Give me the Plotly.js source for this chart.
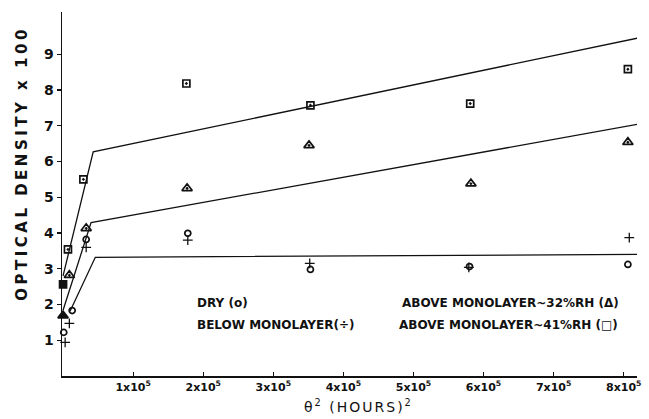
<!DOCTYPE html>
<html>
<head>
<meta charset="utf-8">
<script src="https://cdn.plot.ly/plotly-3.0.1.min.js"></script>
<style>
  html, body { margin: 0; padding: 0; background: #fff; }
  #chart { width: 649px; height: 419px; }
</style>
</head>
<body>
<div id="chart"></div>
<script>
// ---- data (x in hours^2, y = optical density x 100) ----
const rh41X = [0, 7000, 29000, 176000, 353000, 581000, 806000];
const rh41Y = [2.56, 3.54, 5.50, 8.18, 7.57, 7.62, 8.58];

const rh32X = [0, 9000, 33000, 177000, 351000, 582000, 806000];
const rh32Y = [1.69, 2.82, 4.13, 5.25, 6.45, 5.38, 6.54];

const dryX = [1000, 13000, 33000, 178000, 353000, 580000, 806000];
const dryY = [1.22, 1.83, 3.82, 3.99, 2.98, 3.06, 3.12];

const belowX = [3000, 9000, 33000, 178000, 352000, 579000, 808000];
const belowY = [0.94, 1.47, 3.60, 3.80, 3.15, 3.04, 3.87];

// fitted lines drawn on the figure
const fit41X = [0, 43000, 820000];
const fit41Y = [2.80, 6.27, 9.45];
const fit32X = [0, 40000, 820000];
const fit32Y = [1.84, 4.29, 7.04];
const fitDryX = [10000, 46000, 820000];
const fitDryY = [1.81, 3.32, 3.40];

const xTickVals = [100000, 200000, 300000, 400000, 500000, 600000, 700000, 800000];
const xTickText = ["1x10<sup>5</sup>", "2x10<sup>5</sup>", "3x10<sup>5</sup>", "4x10<sup>5</sup>",
                   "5x10<sup>5</sup>", "6x10<sup>5</sup>", "7x10<sup>5</sup>", "8x10<sup>5</sup>"];
const yTickVals = [1, 2, 3, 4, 5, 6, 7, 8, 9];

const labels = [
  "DRY (o)",
  "BELOW MONOLAYER(÷)",
  "ABOVE MONOLAYER~32%RH (Δ)",
  "ABOVE MONOLAYER~41%RH (□)"
];

const FONT = "DejaVu Sans, Liberation Sans, Arial, sans-serif";
const ink = "#111";

const lineStyle = {color: ink, width: 1.3};
const traces = [
  {x: fit41X, y: fit41Y, mode: "lines", line: lineStyle, hoverinfo: "skip"},
  {x: fit32X, y: fit32Y, mode: "lines", line: lineStyle, hoverinfo: "skip"},
  {x: fitDryX, y: fitDryY, mode: "lines", line: lineStyle, hoverinfo: "skip"},
  {x: rh41X, y: rh41Y, mode: "markers", cliponaxis: false,
   marker: {symbol: rh41X.map((v, i) => i === 0 ? "square" : "square-open-dot"),
            size: 7, color: ink, line: {color: ink, width: 1.7}}},
  {x: rh32X, y: rh32Y, mode: "markers", cliponaxis: false,
   marker: {symbol: rh32X.map((v, i) => i === 0 ? "triangle-up" : "triangle-up-open-dot"),
            size: 9, color: ink, line: {color: ink, width: 1.7}}},
  {x: dryX, y: dryY, mode: "markers", cliponaxis: false,
   marker: {symbol: "circle-open", size: 6, color: ink, line: {color: ink, width: 1.7}}},
  {x: belowX, y: belowY, mode: "markers", cliponaxis: false,
   marker: {symbol: "cross-thin-open", size: 7, color: ink, line: {color: ink, width: 1.3}}}
];

const annFont = {family: FONT, size: 12, color: ink, weight: "bold"};
const layout = {
  width: 649, height: 419,
  margin: {l: 62, r: 12, t: 12, b: 43},
  paper_bgcolor: "#fff", plot_bgcolor: "#fff",
  showlegend: false,
  xaxis: {
    range: [-1500, 819000],
    showgrid: false, zeroline: false,
    showline: true, linecolor: ink, linewidth: 1.5,
    ticks: "inside", ticklen: 4, tickwidth: 1.2, tickcolor: ink,
    tickvals: xTickVals, ticktext: xTickText,
    tickfont: {family: FONT, size: 11, color: ink, weight: "bold"}
  },
  yaxis: {
    range: [0, 10.18],
    showgrid: false, zeroline: false,
    showline: true, linecolor: ink, linewidth: 1.5,
    ticks: "outside", ticklen: 4, tickwidth: 1.2, tickcolor: ink,
    tickvals: yTickVals,
    tickfont: {family: FONT, size: 14, color: ink, weight: "bold"}
  },
  annotations: [
    {text: "OPTICAL DENSITY x 100", xref: "paper", yref: "paper", x: -0.0696, y: 0.585,
     xanchor: "center", yanchor: "middle", textangle: -90, showarrow: false,
     font: {family: FONT, size: 15, color: ink, weight: "bold"}},
    {text: "θ<sup>2</sup> (HOURS)<sup>2</sup>", xref: "paper", yref: "paper", x: 0.515, y: -0.083,
     xanchor: "center", yanchor: "middle", showarrow: false,
     font: {family: FONT, size: 14, color: ink}},
    {text: labels[0], xref: "paper", yref: "paper", x: 0.2313, y: 0.2005,
     xanchor: "left", yanchor: "middle", showarrow: false, font: annFont},
    {text: labels[1], xref: "paper", yref: "paper", x: 0.2313, y: 0.1401,
     xanchor: "left", yanchor: "middle", showarrow: false, font: annFont},
    {text: labels[2], xref: "paper", yref: "paper", x: 0.588, y: 0.2005,
     xanchor: "left", yanchor: "middle", showarrow: false, font: annFont},
    {text: labels[3], xref: "paper", yref: "paper", x: 0.5826, y: 0.1401,
     xanchor: "left", yanchor: "middle", showarrow: false, font: annFont}
  ]
};

Plotly.newPlot("chart", traces, layout, {staticPlot: true, displayModeBar: false}).then(function () {
  const anns = document.querySelectorAll("#chart .annotation");
  if (anns[0]) anns[0].querySelectorAll("text").forEach(t => t.style.letterSpacing = "3.5px");
  if (anns[1]) anns[1].querySelectorAll("text").forEach(t => t.style.letterSpacing = "2px");
});
</script>
</body>
</html>
